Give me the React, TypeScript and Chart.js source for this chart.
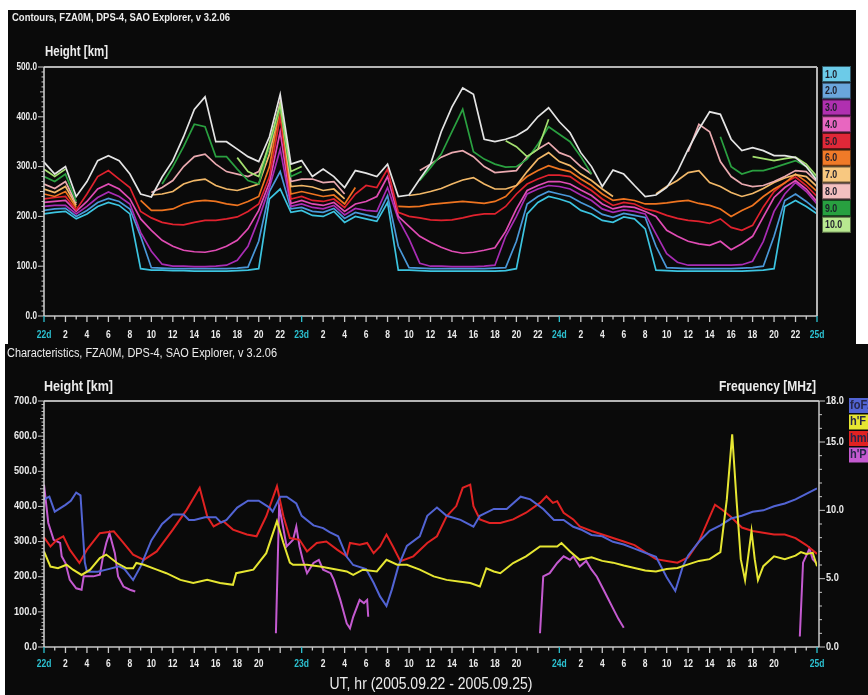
import React, { useEffect, useRef } from "react";
import { Chart, registerables } from "chart.js";

Chart.register(...registerables);

// ---------- shared hour grid (UT hours from 2005.09.22 00:00) ----------
const HOURS = [
  0, 1, 2, 3, 4, 5, 6, 7, 8, 9, 10, 11,
  12, 13, 14, 15, 16, 17, 18, 19, 20, 21, 22, 23,
  24, 25, 26, 27, 28, 29, 30, 31, 32, 33, 34, 35,
  36, 37, 38, 39, 40, 41, 42, 43, 44, 45, 46, 47,
  48, 49, 50, 51, 52, 53, 54, 55, 56, 57, 58, 59,
  60, 61, 62, 63, 64, 65, 66, 67, 68, 69, 70, 71,
  72,
];

const TOP_X_LABELS = [
  "22d", "2", "4", "6", "8", "10", "12", "14", "16", "18", "20", "22",
  "23d", "2", "4", "6", "8", "10", "12", "14", "16", "18", "20", "22",
  "24d", "2", "4", "6", "8", "10", "12", "14", "16", "18", "20", "22",
  "25d",
];
const BOTTOM_X_LABELS = [
  "22d", "2", "4", "6", "8", "10", "12", "14", "16", "18", "20", "",
  "23d", "2", "4", "6", "8", "10", "12", "14", "16", "18", "20", "",
  "24d", "2", "4", "6", "8", "10", "12", "14", "16", "18", "20", "",
  "25d",
];
const TOP_Y_TICKS = [0, 100, 200, 300, 400, 500];
const BOTTOM_Y_TICKS = [0, 100, 200, 300, 400, 500, 600, 700];
const RIGHT_Y_TICKS = [0, 5, 10, 15, 18];

// ---------- top panel: iso-frequency contour heights [km] ----------
const ENVELOPE = [
  309, 285, 300, 240, 270, 312, 322, 312, 285, 245, 239, 279,
  312, 360, 415, 440, 350, 350, 335, 320, 310, 360, 445, 305,
  312, 280, 295, 280, 258, 292, 287, 280, 305, 240, 243, 275,
  305, 370, 420, 458, 445, 355, 350, 355, 362, 375, 400, 418,
  390, 368, 328, 300, 260, 293, 285, 262, 240, 243, 258, 290,
  335, 375, 410, 405, 355, 332, 338, 332, 322, 322, 318, 300,
  272,
];
const F1 = [
  205, 208, 210, 195, 205, 220, 228, 222, 205, 95, 92, 92,
  91, 91, 90, 90, 90, 90, 91, 92, 95, 235, 255, 208,
  212, 202, 200, 210, 188, 200, 195, 190, 228, 92, 92, 91,
  90, 90, 90, 90, 90, 90, 90, 91, 95, 205, 228, 240,
  235, 228, 212, 205, 192, 188, 199, 195, 175, 92, 91, 90,
  90, 90, 90, 90, 90, 90, 91, 92, 95, 220, 232, 220,
  205,
];
const F2 = [
  212, 215, 216, 200, 212, 228, 236, 230, 215, 160, 97, 96,
  95, 95, 95, 95, 95, 95, 96, 98, 150, 250, 290, 215,
  218, 210, 208, 216, 196, 208, 203, 198, 242, 140, 97, 96,
  95, 95, 95, 95, 95, 95, 96, 97, 150, 225, 240, 250,
  245, 240, 228, 218, 204, 198, 206, 202, 198, 140, 97, 96,
  95, 95, 95, 95, 95, 96, 97, 100, 160, 232, 245, 230,
  212,
];
const F3 = [
  220, 222, 222, 205, 220, 238, 249, 240, 225, 168, 130, 104,
  100, 100, 99, 99, 100, 102, 112, 140, 195, 258, 335, 220,
  225, 218, 215, 222, 203, 216, 212, 210, 258, 195, 155, 106,
  100, 100, 99, 99, 99, 100, 102, 160, 200, 245, 255, 262,
  260, 255, 243, 232, 215, 208, 213, 210, 205, 165, 125, 108,
  102, 102, 102, 102, 102, 103, 110, 150, 210, 245, 268, 250,
  225,
];
const F4 = [
  228, 230, 232, 210, 230, 255, 265, 255, 235, 195, 172, 152,
  140, 132, 129, 128, 132, 140, 152, 175, 212, 268, 370, 226,
  232, 225, 222, 228, 210, 225, 230, 240, 280, 200, 180, 160,
  148, 138, 130, 126, 128, 132, 137, 170, 215, 252, 262, 270,
  270, 265, 253, 242, 225, 215, 220, 218, 210, 200, 172, 160,
  150, 145, 142, 150, 133, 145, 160, 199, 238, 258, 272, 255,
  230,
];
const F5 = [
  235, 238, 240, 213, 245, 280, 292, 275, 258, 210, 197, 188,
  184, 183, 188, 192, 192, 195, 199, 210, 225, 280, 400, 235,
  240, 232, 230, 235, 218, 245, 262, 258, 295, 208, 200, 197,
  193, 192, 193, 197, 202, 205, 205, 220, 245, 265, 275, 283,
  283, 280, 265, 252, 235, 222, 228, 225, 215, 210, 202, 196,
  192, 190, 186, 195, 178, 172, 182, 219, 250, 268, 279, 262,
  240,
];
const F6 = [
  245, 240, 250, 218, null, null, null, null, null, 232, 212, 212,
  215, 225, 230, 232, 230, 225, 222, 230, 240, 300, 420, 245,
  250, 245, 240, 243, 225, 258, null, null, null, 220, 219, 220,
  224, 226, 228, 230, 228, 226, 230, 240, 262, 280, 292, 302,
  295, 290, 275, 262, 245, 232, 235, 232, 225, 225, 227, 230,
  232, 226, 222, 215, 200, 212, 222, 240, 255, 267, 285, 270,
  250,
];
const F7 = [
  255, 248, 260, 222, null, null, null, null, null, null, 243, 245,
  250, 265, 272, 275, 262, 255, 252, 258, 265, 325, 425, 260,
  262, 259, 252, 255, 235, null, null, null, null, null, 242, 245,
  250, 256, 265, 273, 278, 265, 255, 255, 262, 290, 315, 328,
  310, 302, 285, 272, 255, 240, null, null, null, 245, 260, 272,
  288, 292, 268, 260, 248, 240, 246, 256, 268, 277, 284, 280,
  260,
];
const F8 = [
  265, 256, 270, 226, null, null, null, null, null, null, 248, 258,
  272, 300, 320, 325, 305, 290, 285, 280, 290, 338, 430, 270,
  275, 275, 268, 270, 245, null, null, null, null, null, null, 292,
  305, 319, 328, 332, 320, 300, 288, 290, 292, 320, 335, 348,
  328, 320, 300, 285, null, null, null, null, null, null, null, null,
  330, 385, 370, 310, 280, 265, 260, 262, 270, 280, 292, 290,
  270,
];
const F9 = [
  280, 270, 285, 230, null, null, null, null, null, null, null, 265,
  300, 340, 385, 380, 320, 320, 295, 272, 265, 342, 420, 280,
  290, null, null, null, null, null, null, null, null, null, null, 272,
  298, 325, 370, 415, 330, 315, 305, 299, 300, 315, 345, 380,
  365, 350, 320, 285, null, null, null, null, null, null, null, null,
  null, null, null, 360, 300, 285, 292, 292, 298, 305, 312, 300,
  275,
];
const F10 = [
  295, 280, 295, null, null, null, null, null, null, null, null, null,
  null, null, null, null, null, null, 318, 290, 280, 348, 425, 290,
  300, null, null, null, null, null, null, null, null, null, null, null,
  null, null, null, null, null, null, null, 352, 340, 320, 335, 395,
  null, null, null, null, null, null, null, null, null, null, null, null,
  null, null, null, null, null, null, 320, 316, 312, 316, 319, 305,
  280,
];

const CONTOUR_LABELS = ["1.0", "2.0", "3.0", "4.0", "5.0", "6.0", "7.0", "8.0", "9.0", "10.0"];
const CONTOUR_VALUES = [F1, F2, F3, F4, F5, F6, F7, F8, F9, F10];
const CONTOUR_LINE_COLORS = [
  "#3cc4e0", "#4a98d8", "#a82cb4", "#e04cb4", "#e0222e",
  "#ee7420", "#f2b868", "#eaaab0", "#2aa040", "#a4e070",
];
const CONTOUR_BOX_COLORS = [
  "#6ccbe8", "#6aa6dc", "#b030b0", "#e866c0", "#e02838",
  "#f07a28", "#f8c880", "#f4c0c0", "#28a040", "#b8e890",
];

// ---------- bottom panel: scaled characteristics ----------
// foF2 [MHz] (right axis)
const FOF2_HOURS = [
  0, 0.5, 1, 2, 2.5, 3, 3.4, 3.8, 4, 5,
  6, 7, 7.5, 8.3, 9, 10, 11, 12, 13, 13.5,
  14, 15, 16, 16.5, 17, 18, 19, 20, 21, 21.3,
  22, 22.6, 23.5, 24, 25.1, 26, 26.6, 27.4, 28.2, 28.8,
  30, 30.7, 31.3, 31.9, 32.4, 33, 33.8, 35, 35.7, 36.6,
  37.5, 38.8, 40, 40.6, 41.9, 43.1, 44.4, 45.3, 46.5, 47.5,
  48.4, 49.3, 50, 51, 52, 53, 54, 55, 56, 57,
  58, 58.8, 59.5, 60, 61, 62, 63, 64, 65, 66,
  67, 68, 69, 70, 71, 72,
];
const FOF2_VALUES = [
  10.8, 11.0, 9.9, 10.4, 10.7, 11.3, 11.1, 6.2, 5.5, 5.5,
  5.7, 5.9, 5.7, 4.9, 5.9, 7.8, 9.0, 9.7, 9.7, 9.3,
  9.3, 9.5, 9.5, 9.1, 9.3, 10.2, 10.7, 10.7, 10.2, 9.9,
  11.0, 11.0, 10.5, 9.6, 8.9, 8.7, 8.4, 8.1, 6.6, 6.0,
  5.7, 4.7, 3.7, 3.0, 4.2, 5.9, 7.4, 8.1, 9.6, 10.2,
  9.6, 9.3, 8.8, 9.6, 10.1, 10.1, 11.0, 10.8, 10.1, 9.3,
  9.3, 8.8, 8.6, 8.2, 8.1, 7.7, 7.5, 7.2, 6.9, 6.6,
  5.1, 4.1, 5.9, 6.7, 7.7, 8.5, 8.9, 9.4, 9.6, 9.9,
  10.0, 10.3, 10.5, 10.8, 11.2, 11.6,
];
// h'F [km]
const HPF_HOURS = [
  0, 0.6, 1.3, 2.1, 2.7, 3.5, 4.3, 5.2, 5.8, 6.8,
  7.7, 8.3, 8.6, 9.3, 10.5, 11.4, 12.7, 13.9, 15.2, 16.4,
  17.6, 17.9, 19.5, 20.7, 21.7, 22.3, 22.9, 23.2, 24.5, 25.7,
  26.6, 28.2, 28.8, 29.7, 31.0, 31.9, 32.9, 33.8, 35.0, 36.3,
  37.5, 38.8, 39.7, 40.6, 41.2, 41.9, 42.5, 43.7, 44.9, 46.2,
  47.8, 48.2, 49.0, 49.9, 51, 52, 53, 54, 55, 56,
  57, 58, 59, 60, 61, 62, 63, 63.6, 64.1, 64.5,
  64.9, 65.3, 65.6, 65.9, 66.2, 66.5, 67, 68, 69, 70,
  70.5, 71, 71.6, 72,
];
const HPF_VALUES = [
  272, 229, 224, 234, 220, 205, 220, 253, 263, 239,
  224, 224, 239, 234, 220, 210, 191, 182, 191, 182,
  177, 210, 220, 267, 358, 296, 240, 234, 234, 229,
  224, 215, 205, 220, 215, 248, 234, 234, 220, 201,
  191, 186, 182, 172, 224, 215, 210, 239, 258, 286,
  286, 296, 272, 248, 255, 245, 240, 232, 225, 218,
  215, 222, 225, 235, 245, 250, 270, 420, 605, 420,
  250, 190, 260, 330, 250, 190, 230, 258, 250, 260,
  270, 265, 268, 230,
];
// hmF2 [km]
const HMF2_HOURS = [
  0, 0.6, 1.2, 1.8, 2.4, 3.3, 4.0, 5.2, 6.5, 7.4,
  8.3, 9.3, 10.5, 12.0, 13.3, 14.5, 15.2, 15.8, 16.7, 17.6,
  18.9, 19.8, 20.7, 21.7, 22.3, 22.9, 23.8, 24.5, 25.4, 26.3,
  27.3, 28.2, 28.5, 29.4, 30.1, 30.7, 31.3, 31.9, 32.5, 33.2,
  34.4, 35.7, 36.6, 37.5, 38.4, 39.0, 39.7, 40.0, 40.6, 41.5,
  42.5, 43.7, 44.9, 46.2, 46.8, 47.4, 47.8, 48.4, 49.3, 49.9,
  51, 52, 53, 54, 55, 56, 57, 58, 59, 60,
  61, 62, 62.5, 63.2, 64, 65, 66, 67, 68, 69,
  70, 71, 72,
];
const HMF2_VALUES = [
  312, 286, 305, 315, 277, 239, 277, 324, 329, 296,
  263, 248, 272, 334, 391, 453, 372, 343, 358, 334,
  320, 315, 372, 458, 372, 310, 305, 272, 296, 300,
  277, 258, 296, 291, 296, 267, 286, 320, 286, 244,
  258, 296, 315, 372, 401, 453, 462, 401, 363, 353,
  353, 363, 382, 410, 429, 410, 415, 382, 363, 343,
  330, 320, 310, 300, 290, 270, 250, 245, 240, 255,
  300, 370, 405, 390, 370, 340, 330, 325, 320, 320,
  310, 290, 265,
];
// h'P [km] (null = no data)
const HPP_HOURS = [
  0, 0.4, 0.9, 1.5, 1.65, 2.0, 2.4, 3.0, 3.5, 3.7,
  4.6, 5.2, 5.5, 5.8, 6.1, 6.6, 6.9, 7.4, 8.0, 8.5,
  8.6,
  21.6, 21.9, 22.2, 22.6, 23.2, 23.5, 23.8, 24.1, 24.5, 25.1,
  25.6, 26.0, 26.7, 27.0, 27.6, 28.2, 28.5, 28.8, 29.4, 29.8,
  30.1, 30.2, 30.3,
  46.2, 46.5, 47.1, 47.8, 48.4, 49.0, 49.3, 49.9, 50.5, 51,
  51.5, 52, 52.5, 53, 53.5, 54, 54.1,
  70.4, 70.7, 71.0, 71.3, 71.6, 71.9,
];
const HPP_VALUES = [
  462, 353, 305, 296, 258, 239, 191, 167, 163, 201,
  201, 206, 258, 296, 324, 267, 201, 172, 163, 158,
  null,
  39, 400, 353, 286, 305, 343, 286, 248, 210, 239,
  248, 220, 210, 191, 134, 67, 53, 86, 134, 125,
  134, 86, null,
  39, 201, 210, 239, 258, 248, 258, 229, 245, 220,
  200, 170, 140, 110, 80, 55, null,
  30, 240, 260, 280, 250, 240,
];

const BOTTOM_LEGEND = ["foF2", "h'F", "hmF2", "h'P"];
const BOTTOM_COLORS = ["#5264d4", "#e6e632", "#e02222", "#c45ad0"];

// ---------- drawing helpers ----------
const FONT = '"Liberation Sans", Arial, sans-serif';
const TXT = "#ececec";
const CYAN = "#2cc0d0";

type TxtOpts = { size: number; bold?: boolean; color: string; align?: CanvasTextAlign; sx?: number; width?: number };
function txt(ctx: CanvasRenderingContext2D, s: string, x: number, y: number, o: TxtOpts) {
  ctx.save();
  ctx.font = `${o.bold ? "bold " : ""}${o.size}px ${FONT}`;
  ctx.fillStyle = o.color;
  ctx.textBaseline = "middle";
  ctx.textAlign = o.align ?? "left";
  let sx = o.sx ?? 1;
  if (o.width) sx = o.width / ctx.measureText(s).width;
  ctx.translate(x, y);
  ctx.scale(sx, 1);
  ctx.fillText(s, 0, 0);
  ctx.restore();
}
function seg(ctx: CanvasRenderingContext2D, x1: number, y1: number, x2: number, y2: number, color: string, w: number) {
  ctx.save();
  ctx.strokeStyle = color;
  ctx.lineWidth = w;
  ctx.beginPath();
  ctx.moveTo(x1, y1);
  ctx.lineTo(x2, y2);
  ctx.stroke();
  ctx.restore();
}
function drawXAxis(chart: any, labels: string[], labelOffset: number, axisRight: number) {
  const { ctx, chartArea: ca } = chart;
  const xs = chart.scales.x;
  seg(ctx, ca.left, ca.bottom, axisRight, ca.bottom, "#c8c8c8", 1.5);
  for (let h = 0; h <= 72; h++) {
    const x = xs.getPixelForValue(h);
    const len = h % 2 === 0 ? 6 : 3.5;
    seg(ctx, x, ca.bottom, x, ca.bottom + len, h % 24 === 0 ? CYAN : "#c8c8c8", 1.3);
  }
  labels.forEach((lab, i) => {
    if (!lab) return;
    const x = xs.getPixelForValue(i * 2);
    txt(ctx, lab, x, ca.bottom + labelOffset, {
      size: 10, bold: true, color: lab.endsWith("d") ? CYAN : TXT, align: "center", sx: 0.85,
    });
  });
}

const topAxesPlugin = {
  id: "topAxes",
  afterDraw(chart: any) {
    const { ctx, chartArea: ca } = chart;
    const ys = chart.scales.y;
    txt(ctx, "Contours, FZA0M, DPS-4, SAO Explorer, v 3.2.06", 4, 8, { size: 11, bold: true, color: TXT, width: 218 });
    txt(ctx, "Height [km]", 37, 42, { size: 14, bold: true, color: TXT, width: 63 });
    seg(ctx, ca.left, ca.top, ca.right, ca.top, "#b4b4b4", 2);
    seg(ctx, ca.right, ca.top, ca.right, ca.bottom, "#b4b4b4", 2);
    seg(ctx, ca.left, ca.top, ca.left, ca.bottom, "#d4d4d4", 1.5);
    for (let v = 0; v <= 500; v += 10) {
      const y = ys.getPixelForValue(v);
      const len = v % 100 === 0 ? 6 : v % 50 === 0 ? 4 : 2.5;
      seg(ctx, ca.left - len, y, ca.left, y, "#c8c8c8", 1);
    }
    TOP_Y_TICKS.forEach((v) => {
      txt(ctx, v.toFixed(1), ca.left - 7, ys.getPixelForValue(v), { size: 10, bold: true, color: TXT, align: "right", sx: 0.82 });
    });
    drawXAxis(chart, TOP_X_LABELS, 19, ca.right);
    const bx = ca.right + 5;
    CONTOUR_LABELS.forEach((lab, i) => {
      const y0 = ca.top - 1 + i * 16.75;
      ctx.save();
      ctx.fillStyle = CONTOUR_BOX_COLORS[i];
      ctx.fillRect(bx, y0, 29, 16);
      ctx.strokeStyle = "rgba(0,0,0,0.55)";
      ctx.lineWidth = 1;
      ctx.strokeRect(bx + 0.5, y0 + 0.5, 28, 15);
      ctx.restore();
      txt(ctx, lab, bx + 3, y0 + 8.5, { size: 11, bold: true, color: "#1e1e2a", sx: 0.8 });
    });
  },
};

const bottomAxesPlugin = {
  id: "bottomAxes",
  afterDraw(chart: any) {
    const { ctx, chartArea: ca } = chart;
    const ys = chart.scales.y;
    const y1 = chart.scales.y1;
    const rx = ca.right + 2;
    txt(ctx, "Characteristics, FZA0M, DPS-4, SAO Explorer, v 3.2.06", 2, 10, { size: 12, color: TXT, width: 270 });
    txt(ctx, "Height [km]", 39, 43, { size: 14, bold: true, color: TXT, width: 69 });
    txt(ctx, "Frequency [MHz]", 811, 43, { size: 14, bold: true, color: TXT, align: "right", width: 97 });
    seg(ctx, ca.left, ca.top, rx, ca.top, "#b4b4b4", 2);
    seg(ctx, ca.left, ca.top, ca.left, ca.bottom, "#d4d4d4", 1.5);
    seg(ctx, rx, ca.top, rx, ca.bottom, "#c8c8c8", 1.5);
    for (let v = 0; v <= 700; v += 10) {
      const y = ys.getPixelForValue(v);
      const len = v % 100 === 0 ? 6 : v % 50 === 0 ? 4 : 2.5;
      seg(ctx, ca.left - len, y, ca.left, y, "#c8c8c8", 1);
    }
    BOTTOM_Y_TICKS.forEach((v) => {
      txt(ctx, v.toFixed(1), ca.left - 7, ys.getPixelForValue(v), { size: 10, bold: true, color: TXT, align: "right", sx: 0.92 });
    });
    for (let f = 0; f <= 18; f++) {
      const y = y1.getPixelForValue(f);
      const major = RIGHT_Y_TICKS.includes(f);
      seg(ctx, rx, y, rx + (major ? 6 : 3), y, "#c8c8c8", 1);
    }
    RIGHT_Y_TICKS.forEach((f) => {
      txt(ctx, f.toFixed(1), rx + 7, y1.getPixelForValue(f), { size: 10, bold: true, color: TXT, sx: 0.92 });
    });
    drawXAxis(chart, BOTTOM_X_LABELS, 17, rx);
    txt(ctx, "UT, hr (2005.09.22 - 2005.09.25)", 426, 340, { size: 17, color: TXT, align: "center", width: 203 });
    // legend (clipped at the panel edge like the reference)
    BOTTOM_LEGEND.forEach((lab, i) => {
      const y0 = ca.top - 3 + i * 16.5;
      ctx.save();
      ctx.fillStyle = BOTTOM_COLORS[i];
      ctx.fillRect(844, y0, 20, 15);
      ctx.restore();
      txt(ctx, lab, 845, y0 + 7.5, { size: 12, bold: true, color: "#26264a", sx: 0.92 });
    });
  },
};

function pts(xs: number[], ys: (number | null)[]) {
  return xs.map((x, i) => ({ x, y: ys[i] }));
}

function buildTop(canvas: HTMLCanvasElement) {
  const datasets: any[] = [
    { label: "envelope", data: pts(HOURS, ENVELOPE), borderColor: "#e4e4e4" },
  ];
  for (let i = CONTOUR_VALUES.length - 1; i >= 0; i--) {
    datasets.push({ label: CONTOUR_LABELS[i], data: pts(HOURS, CONTOUR_VALUES[i]), borderColor: CONTOUR_LINE_COLORS[i] });
  }
  datasets.forEach((d) => Object.assign(d, { borderWidth: 1.7, pointRadius: 0, tension: 0, spanGaps: false, fill: false }));
  return new Chart(canvas, {
    type: "line",
    data: { datasets },
    options: {
      animation: false,
      responsive: false,
      devicePixelRatio: 1,
      events: [],
      layout: { padding: { left: 36, right: 39, top: 57, bottom: 28 } },
      plugins: { legend: { display: false }, tooltip: { enabled: false } },
      scales: {
        x: { type: "linear", min: 0, max: 72, display: false },
        y: { type: "linear", min: 0, max: 500, display: false },
      },
    },
    plugins: [topAxesPlugin],
  } as any);
}

function buildBottom(canvas: HTMLCanvasElement) {
  const common = { borderWidth: 2, pointRadius: 0, tension: 0, spanGaps: false, fill: false };
  const datasets: any[] = [
    { label: "h'F", data: pts(HPF_HOURS, HPF_VALUES), borderColor: BOTTOM_COLORS[1], yAxisID: "y", ...common },
    { label: "foF2", data: pts(FOF2_HOURS, FOF2_VALUES), borderColor: BOTTOM_COLORS[0], yAxisID: "y1", ...common },
    { label: "hmF2", data: pts(HMF2_HOURS, HMF2_VALUES), borderColor: BOTTOM_COLORS[2], yAxisID: "y", ...common },
    { label: "h'P", data: pts(HPP_HOURS, HPP_VALUES), borderColor: BOTTOM_COLORS[3], yAxisID: "y", ...common },
  ];
  return new Chart(canvas, {
    type: "line",
    data: { datasets },
    options: {
      animation: false,
      responsive: false,
      devicePixelRatio: 1,
      events: [],
      layout: { padding: { left: 39, right: 51, top: 57, bottom: 48 } },
      plugins: { legend: { display: false }, tooltip: { enabled: false } },
      scales: {
        x: { type: "linear", min: 0, max: 72, display: false },
        y: { type: "linear", min: 0, max: 700, display: false },
        y1: { type: "linear", position: "right", min: 0, max: 18, display: false },
      },
    },
    plugins: [bottomAxesPlugin],
  } as any);
}

function ChartCanvas({ width, height, build }: { width: number; height: number; build: (c: HTMLCanvasElement) => Chart }) {
  const ref = useRef<HTMLCanvasElement>(null);
  useEffect(() => {
    const chart = build(ref.current!);
    return () => chart.destroy();
  }, []);
  return <canvas ref={ref} width={width} height={height} style={{ display: "block", width, height }} />;
}

export default function App() {
  return (
    <div style={{ position: "fixed", left: 0, top: 0, width: 868, height: 695, background: "#ffffff", overflow: "hidden" }}>
      <div style={{ position: "absolute", left: 8, top: 10, width: 848, height: 334, background: "#0a0a0a" }}>
        <ChartCanvas width={848} height={334} build={buildTop} />
      </div>
      <div style={{ position: "absolute", left: 5, top: 344, width: 863, height: 351, background: "#0a0a0a" }}>
        <ChartCanvas width={863} height={351} build={buildBottom} />
      </div>
    </div>
  );
}
